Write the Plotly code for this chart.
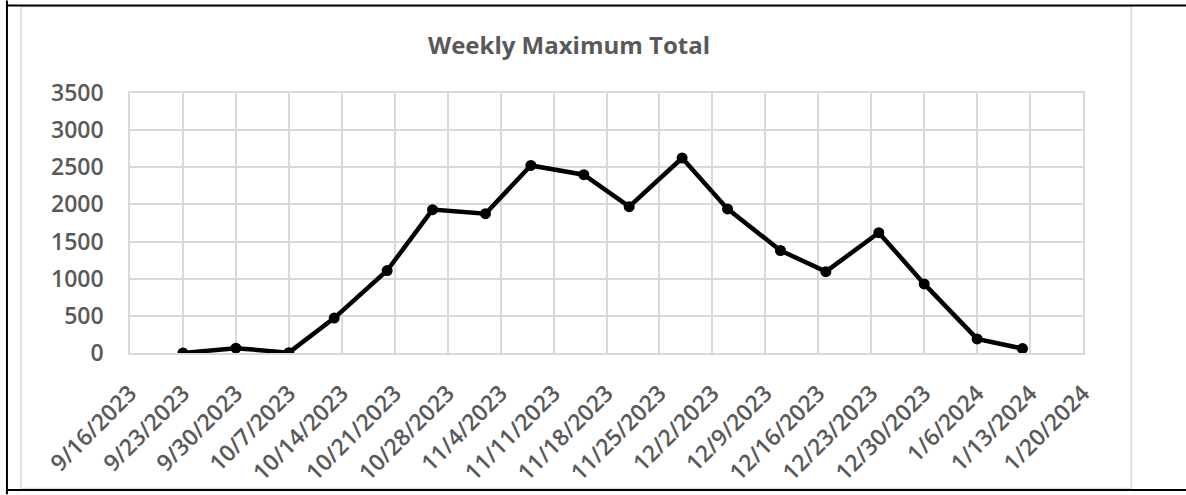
import plotly.graph_objects as go

# ---- data ----
dates = ["2023-09-23", "2023-09-30", "2023-10-07", "2023-10-13", "2023-10-20",
         "2023-10-26", "2023-11-02", "2023-11-08", "2023-11-15", "2023-11-21",
         "2023-11-28", "2023-12-04", "2023-12-11", "2023-12-17", "2023-12-24",
         "2023-12-30", "2024-01-06", "2024-01-12"]
values = [0, 65, 5, 470, 1110, 1930, 1875, 2525, 2400, 1970,
          2625, 1940, 1380, 1095, 1620, 930, 190, 60]
tick_dates = ["2023-09-16", "2023-09-23", "2023-09-30", "2023-10-07", "2023-10-14",
              "2023-10-21", "2023-10-28", "2023-11-04", "2023-11-11", "2023-11-18",
              "2023-11-25", "2023-12-02", "2023-12-09", "2023-12-16", "2023-12-23",
              "2023-12-30", "2024-01-06", "2024-01-13", "2024-01-20"]
tick_labels = ["9/16/2023", "9/23/2023", "9/30/2023", "10/7/2023", "10/14/2023",
               "10/21/2023", "10/28/2023", "11/4/2023", "11/11/2023", "11/18/2023",
               "11/25/2023", "12/2/2023", "12/9/2023", "12/16/2023", "12/23/2023",
               "12/30/2023", "1/6/2024", "1/13/2024", "1/20/2024"]
title_text = "Weekly Maximum Total"

W, H = 1186, 495
L, R, T, B = 130, 1082.7, 92.7, 353.3
PW, PH = R - L, B - T

def px(x):
    return (x - L) / PW

def py(y):
    return (B - y) / PH

GRID = "#d9d9d9"
TXT = "#595959"
FONT = "Open Sans"

fig = go.Figure()
fig.add_trace(go.Scatter(
    x=dates, y=values, mode="lines+markers",
    line=dict(color="black", width=4.5),
    marker=dict(color="black", size=11),
    showlegend=False,
))

fig.update_layout(
    width=W, height=H,
    margin=dict(l=L, r=W - R, t=T, b=H - B, autoexpand=False),
    paper_bgcolor="white", plot_bgcolor="white",
    title=dict(text=title_text, xref="container", x=569 / W, xanchor="center",
               yref="container", y=1 - 46 / H, yanchor="middle",
               font=dict(family=FONT, size=24, color=TXT, weight=700)),
    xaxis=dict(
        type="date", range=[tick_dates[0], tick_dates[-1]],
        tickmode="array", tickvals=tick_dates, ticktext=tick_labels,
        tickangle=-45, showgrid=True, gridcolor=GRID, gridwidth=1.5,
        showline=True, linecolor=GRID, linewidth=1.5, mirror=True,
        ticks="", tickfont=dict(family=FONT, size=23, color=TXT, weight=600),
        ticklabelstandoff=16,
    ),
    yaxis=dict(
        range=[0, 3500], dtick=500, tick0=0,
        showgrid=True, gridcolor=GRID, gridwidth=1.5,
        showline=True, linecolor=GRID, linewidth=1.5, mirror=True,
        zeroline=False, ticks="",
        tickfont=dict(family=FONT, size=23, color=TXT, weight=600),
        ticklabelstandoff=20,
    ),
    shapes=[
        # chart area border
        dict(type="rect", xref="paper", yref="paper",
             x0=px(21), x1=px(1131), y0=py(489), y1=py(6),
             line=dict(color=GRID, width=1.5), fillcolor="rgba(0,0,0,0)", layer="below"),
        # black frame lines
        dict(type="line", xref="paper", yref="paper",
             x0=px(7), x1=px(7), y0=py(495), y1=py(0),
             line=dict(color="black", width=2)),
        dict(type="line", xref="paper", yref="paper",
             x0=px(6), x1=px(1186), y0=py(5), y1=py(5),
             line=dict(color="black", width=2)),
        dict(type="line", xref="paper", yref="paper",
             x0=px(6), x1=px(1186), y0=py(490.5), y1=py(490.5),
             line=dict(color="black", width=2)),
    ],
)

fig.write_html(
    "out.html",
    config={"displayModeBar": False},
    post_script="document.body.style.margin='0';document.body.style.overflow='hidden';",
)
